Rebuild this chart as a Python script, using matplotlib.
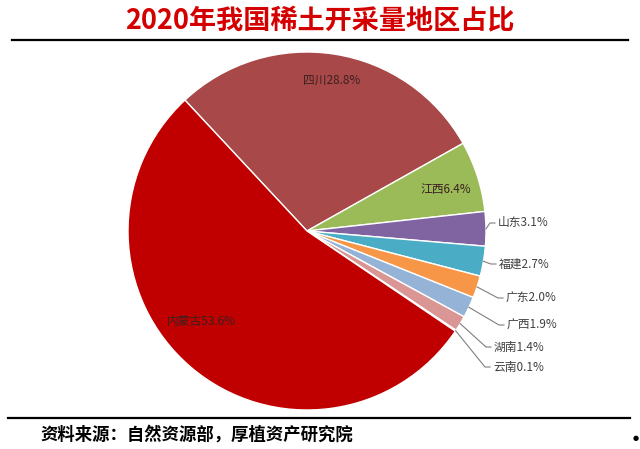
import numpy as np
import matplotlib
matplotlib.use("Agg")
import matplotlib.pyplot as plt

plt.rcParams['font.family'] = ['Noto Sans CJK SC', 'DejaVu Sans']

regions = ["四川", "江西", "山东", "福建", "广东", "广西", "湖南", "云南", "内蒙古"]
shares = [28.8, 6.4, 3.1, 2.7, 2.0, 1.9, 1.4, 0.1, 53.6]
colors = ["#A94848", "#9BBB59", "#8064A2", "#4BACC6", "#F79646",
          "#95B3D7", "#D99694", "#E6B9B8", "#C00000"]

title = "2020年我国稀土开采量地区占比"
source = "资料来源：自然资源部，厚植资产研究院"

W, H = 640, 449
CX, CY, R = 307, 231, 179

fig = plt.figure(figsize=(W / 100, H / 100), dpi=100)
ax = fig.add_axes([(CX - R) / W, (H - CY - R) / H, 2 * R / W, 2 * R / H])
wedges, _ = ax.pie(shares, colors=colors, startangle=133, counterclock=False,
                   radius=1, wedgeprops=dict(edgecolor="white", linewidth=1.0))
ax.set_xlim(-1, 1)
ax.set_ylim(-1, 1)
ax.axis("off")


def to_data(px, py):
    return (px - CX) / R, (CY - py) / R


# inside labels (pixel positions)
inside = {"四川": (332, 80), "江西": (446, 190), "内蒙古": (201, 321)}
# outside labels: leader elbow position (pixels), text follows to the right
outside = {"山东": (490, 223), "福建": (491, 264), "广东": (498, 298),
           "广西": (499, 325), "湖南": (486, 347), "云南": (485, 367)}

for w, name, val in zip(wedges, regions, shares):
    lab = f"{name}{val:.1f}%"
    if name in inside:
        x, y = to_data(*inside[name])
        ax.text(x, y, lab, ha="center", va="center", fontsize=8.5, color="#3a2020")
    else:
        ang = np.deg2rad((w.theta1 + w.theta2) / 2)
        sx, sy = np.cos(ang), np.sin(ang)
        tx, ty = to_data(*outside[name])
        ax.plot([sx, tx, tx + 5 / R], [sy, ty, ty], color="#7f7f7f", lw=0.8,
                clip_on=False)
        ax.text(tx + 8 / R, ty, lab, ha="left", va="center", fontsize=8.5,
                color="#404040")

fig.text(320 / W, 1 - 20 / H, title, ha="center", va="center", fontsize=19.5,
         color="#D40000", fontweight="bold")
fig.add_artist(plt.Line2D([12 / W, 628 / W], [1 - 40 / H, 1 - 40 / H],
                          color="black", lw=1.6))
fig.add_artist(plt.Line2D([8 / W, 630 / W], [1 - 418 / H, 1 - 418 / H],
                          color="black", lw=1.6))
fig.text(40 / W, 1 - 435 / H, source, ha="left", va="center", fontsize=12.5,
         color="black", fontweight="bold")
fig.text(636 / W, 1 - 438 / H, "●", ha="center", va="center", fontsize=5,
         color="black", family=["DejaVu Sans"])

fig.savefig("out.png", dpi=100)
